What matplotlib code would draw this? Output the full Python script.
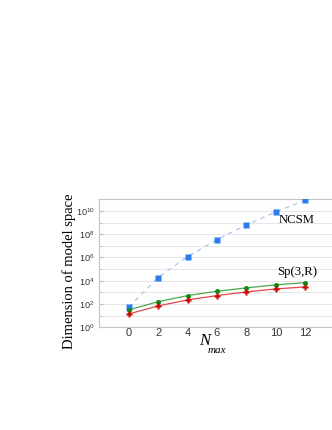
import matplotlib
matplotlib.use("Agg")
import matplotlib.pyplot as plt
from matplotlib.ticker import FixedLocator, LogLocator, NullFormatter

# Nmax values and model space dimensions
nmax = [0, 2, 4, 6, 8, 10, 12]
ncsm = [55, 1.9e4, 1.2e6, 3.4e7, 6.2e8, 8.2e9, 8.9e10]
spGreen = [31, 160, 530, 1260, 2450, 4450, 6950]
spRed = [14, 69, 225, 530, 1100, 2000, 2950]
yTicks = [0, 2, 4, 6, 8, 10]
xTicks = [0, 2, 4, 6, 8, 10, 12]

plt.rcParams['mathtext.fontset'] = 'custom'
plt.rcParams['mathtext.rm'] = 'Liberation Sans'
plt.rcParams['mathtext.it'] = 'Liberation Sans:italic'
plt.rcParams['mathtext.bf'] = 'Liberation Sans:bold'


def main():
    fig = plt.figure(figsize=(3.32, 4.30), dpi=100)
    ax = fig.add_axes([0.299, 0.2388, 0.709, 0.2977])

    # Light horizontal grid at every decade
    for d in range(0, 12):
        ax.axhline(10 ** d, color='#e6e6e6', lw=0.7, zorder=0)

    ax.plot(nmax, ncsm, ls=(0, (4, 4)), color='#9ec0f5', lw=0.8, zorder=2)
    ax.plot(nmax, ncsm, 's', color='#2a7cf0', ms=3.8, mec='none', zorder=3)
    ax.plot(nmax, spGreen, '-', color='#4aa84a', lw=0.9, zorder=2)
    ax.plot(nmax, spGreen, 'o', color='#128a12', ms=3.6, mec='none', zorder=3)
    ax.plot(nmax, spRed, '-', color='#e04848', lw=0.9, zorder=2)
    ax.plot(nmax, spRed, 'P', color='#cc0000', ms=4.2, mec='none', zorder=3)

    ax.set_yscale('log')
    ax.set_ylim(1, 1e11)
    ax.set_xlim(-2, 14)

    ax.xaxis.set_major_locator(FixedLocator(xTicks))
    ax.set_xticklabels([str(t) for t in xTicks], fontsize=8, family='Liberation Sans', color='#333333')
    ax.tick_params(axis='x', length=0, pad=0.5)

    ax.yaxis.set_major_locator(FixedLocator([10 ** t for t in yTicks]))
    ax.set_yticklabels(['$10^{%d}$' % t for t in yTicks], fontsize=6.6, color='#333333')
    ax.yaxis.set_minor_locator(LogLocator(base=10, subs=(1.0,), numticks=20))
    ax.yaxis.set_minor_formatter(NullFormatter())
    ax.tick_params(axis='y', which='major', direction='in', length=3, color='#bbbbbb', pad=3.2)
    ax.tick_params(axis='y', which='minor', direction='in', length=2, color='#bbbbbb')

    for side in ['left', 'top', 'bottom']:
        ax.spines[side].set_color('#c4c4c4')
        ax.spines[side].set_linewidth(0.8)
    ax.spines['right'].set_visible(False)

    ax.set_ylabel('Dimension of model space', family='Liberation Serif', fontsize=10.5)
    ax.yaxis.set_label_coords(-0.097, 0.44)

    # N with a low-set "max" subscript
    fig.text(199 / 332, 1 - 345 / 430, 'N', family='Liberation Serif', style='italic',
             fontsize=12, va='baseline')
    fig.text(208 / 332, 1 - 353 / 430, 'max', family='Liberation Serif', style='italic',
             fontsize=8, va='baseline')

    ax.text(11.45, 5.4e9, 'NCSM', family='Liberation Serif', fontsize=9.2, ha='center', va='top')
    ax.text(11.45, 1.9e4, 'Sp(3,R)', family='Liberation Serif', fontsize=9.2, ha='center', va='bottom')

    fig.savefig('out.png', dpi=100)


if __name__ == "__main__":
    main()
